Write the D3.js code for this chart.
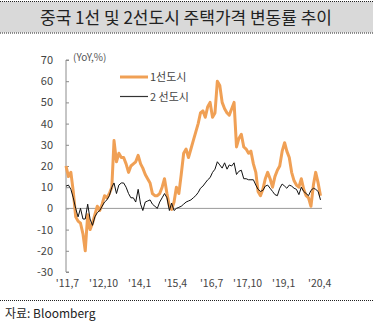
<!DOCTYPE html>
<html>
<head>
<meta charset="utf-8">
<script src="https://cdn.jsdelivr.net/npm/d3@7"></script>
<style>
  html, body { margin: 0; padding: 0; background: #fff; }
  svg { display: block; font-family: "Noto Sans CJK KR", "Noto Sans", sans-serif; }
</style>
</head>
<body>
<svg id="chart" width="373" height="329"></svg>
<script>
// Monthly YoY house price change (%), starting July 2011
const startYear = 2011, startMonth = 6; // July (0-based month)

const tier1 = [
  20, 15, 17, 8, -4, -6, -7, -12, -20, -3, -10, -7, -3, 1, -1, 2, 6, 5, 7, 10,
  32, 22, 26, 24, 24, 21, 17, 20, 21, 22, 25, 21, 19, 16, 14, 12, 7, 6, 6, 7,
  10, 14, 7, 1, -0.5, 3, 10, 7, 16, 26, 28, 24, 28, 32, 36, 40, 45, 46, 43, 48,
  50, 43, 45, 60, 58, 50, 47, 45, 44, 47, 50, 29, 33, 35, 29, 28, 26, 27, 21, 17,
  8, 6, 9, 14, 17, 14, 10, 15, 18, 20, 27, 31, 27, 24, 17, 13, 11, 10, 14, 9,
  6, 5, 1, 11, 17, 12, 6
];

const tier2 = [
  10.5, 11, 9, 5, 0, -4, 0, -5, -5, 2, -5, -8, -4, -2, -1, 1, 3, 4, 6, 10,
  12, 7, 11, 12, 12, 10, 7, 5, 5, 3, 9, 2, -1, 3, 3.5, 4, 2, 1, 0, 3,
  5, 7, 5, -1, 2.5, -1, 0, 0.5, 1, 2, 3, 3.5, 4, 5, 6, 7.5, 9.5, 10.5, 12, 13.5,
  14.5, 17, 18.5, 22, 20.5, 19, 21.5, 18.5, 20.5, 20, 21.5, 16, 17.5, 18, 14, 14, 13.5, 13.5, 13.5, 11,
  9, 8, 8.5, 10.5, 11, 9.5, 8, 6.5, 6, 9.5, 11.5, 10.5, 9.5, 11, 10.5, 9.5, 9, 6.5, 10, 8,
  7, 6, 8.5, 9.5, 9, 8, 4
];

const seriesNames = ["1선도시", "2 선도시"];
const yTicks = [70, 60, 50, 40, 30, 20, 10, 0, -10, -20, -30];
// x tick labels every 15 months from the first month
const xTickLabels = ["'11,7", "'12,10", "'14,1", "'15,4", "'16,7", "'17,10", "'19,1", "'20,4"];
const xTickMonths = [0, 15, 30, 45, 60, 75, 90, 105];

const svg = d3.select("#chart");
const W = 373, H = 329;

const monthDate = i => new Date(startYear, startMonth + i, 1);
const dates1 = tier1.map((v, i) => ({ date: monthDate(i), value: v }));
const dates2 = tier2.map((v, i) => ({ date: monthDate(i), value: v }));

// Title band with dotted rules
svg.append("rect").attr("x", 0).attr("y", 1.5).attr("width", W).attr("height", 31)
  .attr("fill", "#d9d9d9");
[1.5, 33].forEach(y => {
  svg.append("line").attr("x1", 0).attr("x2", W).attr("y1", y).attr("y2", y)
    .attr("stroke", "#222").attr("stroke-width", 1).attr("stroke-dasharray", "1,1");
});
svg.append("text").attr("x", 186).attr("y", 23.5)
  .attr("text-anchor", "middle").attr("font-size", 17).attr("fill", "#222")
  .text("중국 1선 및 2선도시 주택가격 변동률 추이");

// Scales
const x = d3.scaleTime()
  .domain([monthDate(0), monthDate(tier1.length - 1)])
  .range([66, 320.5]);
const y = d3.scaleLinear().domain([-30, 70]).range([272, 60]);

// Y axis: line on the left, short ticks pointing inward, labels outside
const yAxis = d3.axisRight(y).tickValues(yTicks).tickSize(3).tickFormat("");
const gy = svg.append("g").attr("transform", "translate(66,0)").call(yAxis);
gy.select(".domain").attr("stroke", "#8c8c8c").attr("d", `M3,${y(70)}H0V${y(-30)}H3`);
gy.selectAll(".tick line").attr("stroke", "#8c8c8c");

svg.append("g").selectAll("text").data(yTicks).join("text")
  .attr("x", 53).attr("y", d => y(d) + 4)
  .attr("text-anchor", "end").attr("font-size", 11).attr("fill", "#444")
  .text(d => d);

svg.append("text").attr("x", 73).attr("y", 61)
  .attr("font-size", 10).attr("fill", "#555").text("(YoY,%)");

// Zero line
svg.append("line")
  .attr("x1", 66).attr("x2", 322).attr("y1", y(0)).attr("y2", y(0))
  .attr("stroke", "#9a9a9a").attr("stroke-width", 1);

// X tick labels
svg.append("g").selectAll("text").data(xTickMonths).join("text")
  .attr("x", d => x(monthDate(d)) + 1.5).attr("y", 287)
  .attr("text-anchor", "middle").attr("font-size", 10.5).attr("fill", "#444")
  .text((d, i) => xTickLabels[i]);

// Lines
const line = d3.line().x(d => x(d.date)).y(d => y(d.value));
svg.append("path").datum(dates1).attr("d", line)
  .attr("fill", "none").attr("stroke", "#f0a055").attr("stroke-width", 3)
  .attr("stroke-linejoin", "round");
svg.append("path").datum(dates2).attr("d", line)
  .attr("fill", "none").attr("stroke", "#111").attr("stroke-width", 1);

// Legend
const legend = [
  { name: seriesNames[0], color: "#f0a055", width: 3, y: 77 },
  { name: seriesNames[1], color: "#333", width: 1.2, y: 96.5 }
];
legend.forEach(l => {
  svg.append("line").attr("x1", 120).attr("x2", 148).attr("y1", l.y).attr("y2", l.y)
    .attr("stroke", l.color).attr("stroke-width", l.width);
  svg.append("text").attr("x", 150).attr("y", l.y + 4)
    .attr("font-size", 11).attr("fill", "#444").text(l.name);
});

// Source line
svg.append("line").attr("x1", 0).attr("x2", W).attr("y1", 300.5).attr("y2", 300.5)
  .attr("stroke", "#222").attr("stroke-width", 1).attr("stroke-dasharray", "1,1");
svg.append("text").attr("x", 5).attr("y", 318)
  .attr("font-size", 12).attr("fill", "#222").text("자료: Bloomberg");
</script>
</body>
</html>
